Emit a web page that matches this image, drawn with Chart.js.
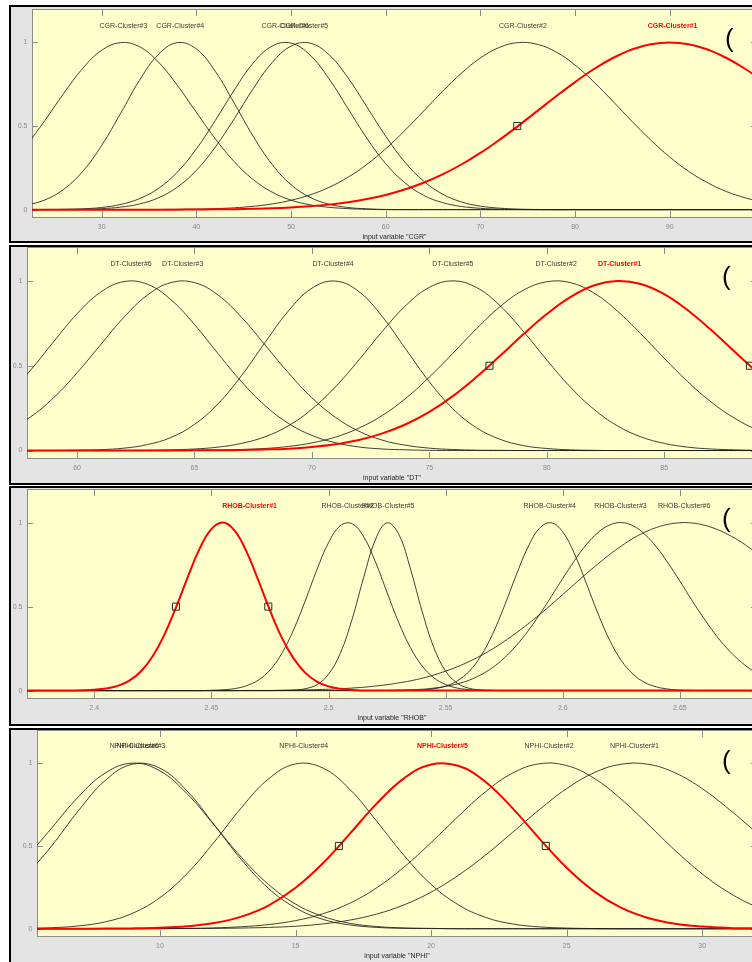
<!DOCTYPE html>
<html>
<head>
<meta charset="utf-8">
<script src="https://cdn.jsdelivr.net/npm/chart.js@4.4.1/dist/chart.umd.min.js"></script>
<style>
  html, body { margin: 0; padding: 0; background: #ffffff; }
  body { position: relative; width: 752px; height: 962px; overflow: hidden; }
  .frame { position: absolute; left: 9px; width: 800px; background: #e4e4e4; border: 2px solid #000; box-sizing: border-box; }
  canvas { position: absolute; left: 0; }
  .paren { position: absolute; font-family: 'Liberation Sans', Arial, sans-serif; font-size: 26px; line-height: 26px; color: #000; }
</style>
</head>
<body>
<div class="frame" style="top:5px;height:238px"></div>
<div class="frame" style="top:245px;height:240px"></div>
<div class="frame" style="top:486px;height:240px"></div>
<div class="frame" style="top:728px;height:300px"></div>

<canvas id="cgr"></canvas>
<canvas id="dt"></canvas>
<canvas id="rhob"></canvas>
<canvas id="nphi"></canvas>

<div class="paren" style="left:725px;top:25px">(</div>
<div class="paren" style="left:722px;top:263px">(</div>
<div class="paren" style="left:722px;top:505px">(</div>
<div class="paren" style="left:722px;top:747px">(</div>

<script>
// ---- membership degrees sampled along each input variable ----
const yTicks = [0, 0.5, 1];

// CGR
const cgrX = [22,24,26,28,30,32,34,36,38,40,42,44,46,48,50,52,54,56,58,60,62,64,66,68,70,72,74,76,78,80,82,84,86,88,90,92,94,96,98,100];
const cgrCluster1 = [0,0,0,0,0,0,0,0,0,0.001,0.002,0.003,0.005,0.008,0.013,0.020,0.030,0.044,0.063,0.088,0.120,0.161,0.211,0.270,0.339,0.417,0.501,0.589,0.678,0.763,0.841,0.907,0.958,0.989,1.000,0.989,0.958,0.907,0.841,0.763];
const cgrCluster2 = [0,0,0,0,0,0,0,0.001,0.002,0.003,0.006,0.011,0.020,0.034,0.056,0.088,0.133,0.193,0.270,0.364,0.472,0.589,0.707,0.816,0.907,0.970,0.999,0.989,0.943,0.865,0.763,0.648,0.529,0.416,0.315,0.229,0.161,0.108,0.070,0.044];
const cgrCluster3 = [0.379,0.533,0.696,0.845,0.953,0.999,0.974,0.882,0.743,0.582,0.424,0.287,0.180,0.105,0.057,0.029,0.014,0.006,0.002,0,0,0,0,0,0,0,0,0,0,0,0,0,0,0,0,0,0,0,0,0];
const cgrCluster4 = [0.025,0.058,0.122,0.229,0.384,0.576,0.774,0.929,0.999,0.961,0.827,0.637,0.439,0.271,0.149,0.074,0.033,0.013,0.005,0.001,0,0,0,0,0,0,0,0,0,0,0,0,0,0,0,0,0,0,0,0];
const cgrCluster5 = [0,0,0.001,0.002,0.006,0.015,0.034,0.071,0.135,0.235,0.374,0.543,0.723,0.879,0.978,0.996,0.927,0.790,0.616,0.439,0.286,0.171,0.093,0.046,0.021,0.009,0.003,0.001,0,0,0,0,0,0,0,0,0,0,0,0];
const cgrCluster6 = [0,0.001,0.002,0.005,0.013,0.031,0.066,0.127,0.225,0.363,0.533,0.715,0.876,0.978,0.996,0.925,0.784,0.606,0.428,0.275,0.162,0.086,0.042,0.019,0.008,0.003,0.001,0,0,0,0,0,0,0,0,0,0,0,0,0];
const cgrTicks = [30,40,50,60,70,80,90];
const cgrLabelX = [90.3, 74.5, 32.3, 38.3, 51.4, 49.4];
const cgrMarkX = [73.9];
const cgrMarkY = [0.5];

// DT
const dtX = [57,58,59,60,61,62,63,64,65,66,67,68,69,70,71,72,73,74,75,76,77,78,79,80,81,82,83,84,85,86,87,88,89,90];
const dtCluster1 = [0,0,0,0,0,0,0,0,0.001,0.001,0.003,0.006,0.011,0.021,0.037,0.062,0.101,0.155,0.228,0.321,0.433,0.557,0.685,0.805,0.905,0.973,1.000,0.982,0.922,0.827,0.710,0.582,0.457,0.342];
const dtCluster2 = [0,0,0,0,0,0,0,0,0.001,0.003,0.006,0.012,0.024,0.045,0.079,0.132,0.207,0.308,0.433,0.573,0.717,0.847,0.945,0.995,0.990,0.929,0.823,0.689,0.544,0.406,0.286,0.190,0.119,0.071];
const dtCluster3 = [0.114,0.196,0.311,0.458,0.623,0.786,0.917,0.990,0.990,0.917,0.786,0.623,0.458,0.311,0.196,0.114,0.061,0.031,0.014,0.006,0.002,0.001,0,0,0,0,0,0,0,0,0,0,0,0];
const dtCluster4 = [0,0,0,0.002,0.005,0.014,0.035,0.077,0.154,0.275,0.441,0.636,0.823,0.957,0.999,0.937,0.789,0.597,0.405,0.247,0.135,0.067,0.029,0.012,0.004,0.001,0,0,0,0,0,0,0,0];
const dtCluster5 = [0,0,0,0,0,0,0.001,0.004,0.009,0.020,0.042,0.081,0.146,0.244,0.375,0.534,0.703,0.855,0.962,1.000,0.962,0.855,0.703,0.534,0.375,0.244,0.146,0.081,0.042,0.020,0.009,0.004,0.001,0];
const dtCluster6 = [0.318,0.470,0.641,0.806,0.933,0.996,0.980,0.889,0.743,0.572,0.406,0.266,0.160,0.089,0.046,0.021,0.009,0.004,0.001,0,0,0,0,0,0,0,0,0,0,0,0,0,0,0];
const dtTicks = [60,65,70,75,80,85];
const dtLabelX = [83.1, 80.4, 64.5, 70.9, 76.0, 62.3];
const dtMarkX = [77.56, 88.65];
const dtMarkY = [0.5, 0.5];

// RHOB
const rhobX = [2.370,2.375,2.380,2.385,2.390,2.395,2.400,2.405,2.410,2.415,2.420,2.425,2.430,2.435,2.440,2.445,2.450,2.455,2.460,2.465,2.470,2.475,2.480,2.485,2.490,2.495,2.500,2.505,2.510,2.515,2.520,2.525,2.530,2.535,2.540,2.545,2.550,2.555,2.560,2.565,2.570,2.575,2.580,2.585,2.590,2.595,2.600,2.605,2.610,2.615,2.620,2.625,2.630,2.635,2.640,2.645,2.650,2.655,2.660,2.665,2.670,2.675,2.680,2.685,2.690];
const rhobCluster1 = [0,0,0,0,0.001,0.002,0.005,0.012,0.028,0.059,0.115,0.206,0.335,0.499,0.679,0.845,0.961,1.000,0.951,0.827,0.657,0.478,0.317,0.193,0.107,0.054,0.025,0.011,0.004,0.001,0,0,0,0,0,0,0,0,0,0,0,0,0,0,0,0,0,0,0,0,0,0,0,0,0,0,0,0,0,0,0,0,0,0,0];
const rhobCluster2 = [0,0,0,0,0,0,0,0,0,0,0,0,0,0,0,0,0.002,0.005,0.012,0.029,0.062,0.122,0.220,0.359,0.532,0.718,0.880,0.981,0.994,0.916,0.767,0.584,0.404,0.255,0.146,0.076,0.036,0.015,0.006,0.002,0.001,0,0,0,0,0,0,0,0,0,0,0,0,0,0,0,0,0,0,0,0,0,0,0,0];
const rhobCluster3 = [0,0,0,0,0,0,0,0,0,0,0,0,0,0,0,0,0,0,0,0,0,0,0,0,0,0,0,0,0,0,0.001,0.001,0.003,0.005,0.008,0.015,0.025,0.040,0.062,0.094,0.137,0.194,0.266,0.352,0.451,0.558,0.668,0.774,0.868,0.940,0.986,1.000,0.981,0.930,0.854,0.758,0.651,0.540,0.434,0.337,0.253,0.184,0.129,0.088,0.058];
const rhobCluster4 = [0,0,0,0,0,0,0,0,0,0,0,0,0,0,0,0,0,0,0,0,0,0,0,0,0,0,0,0,0,0,0,0,0,0.002,0.004,0.011,0.027,0.058,0.114,0.205,0.335,0.501,0.683,0.850,0.965,0.999,0.944,0.814,0.640,0.459,0.300,0.179,0.098,0.048,0.022,0.009,0.003,0.001,0,0,0,0,0,0,0];
const rhobCluster5 = [0,0,0,0,0,0,0,0,0,0,0,0,0,0,0,0,0,0,0,0,0,0,0.001,0.003,0.011,0.035,0.097,0.221,0.422,0.673,0.897,0.999,0.930,0.723,0.470,0.255,0.116,0.044,0.014,0.004,0.001,0,0,0,0,0,0,0,0,0,0,0,0,0,0,0,0,0,0,0,0,0,0,0,0];
const rhobCluster6 = [0,0,0,0,0,0,0,0,0,0,0,0,0,0,0,0,0,0,0,0.001,0.001,0.001,0.002,0.003,0.004,0.006,0.008,0.011,0.015,0.020,0.027,0.035,0.046,0.058,0.074,0.093,0.116,0.142,0.173,0.208,0.248,0.293,0.342,0.395,0.451,0.511,0.572,0.634,0.695,0.754,0.810,0.861,0.906,0.943,0.971,0.990,0.999,0.998,0.986,0.964,0.933,0.894,0.847,0.795,0.738];
const rhobTicks = [2.4,2.45,2.5,2.55,2.6,2.65];
const rhobLabelX = [2.4663, 2.5082, 2.6246, 2.5944, 2.5255, 2.6518];
const rhobMarkX = [2.4349, 2.4743];
const rhobMarkY = [0.5, 0.5];

// NPHI
const nphiX = [5,6,7,8,9,10,11,12,13,14,15,16,17,18,19,20,21,22,23,24,25,26,27,28,29,30,31,32,33];
const nphiCluster1 = [0,0,0,0,0,0,0.001,0.002,0.004,0.008,0.015,0.029,0.052,0.089,0.144,0.221,0.322,0.444,0.581,0.720,0.846,0.941,0.993,0.993,0.941,0.846,0.720,0.581,0.444];
const nphiCluster2 = [0,0,0,0,0,0.001,0.002,0.005,0.012,0.025,0.049,0.090,0.154,0.248,0.372,0.520,0.678,0.826,0.939,0.996,0.985,0.910,0.784,0.631,0.473,0.331,0.217,0.132,0.075];
const nphiCluster3 = [0.308,0.499,0.714,0.898,0.994,0.969,0.832,0.628,0.418,0.244,0.126,0.057,0.023,0.008,0.002,0.001,0,0,0,0,0,0,0,0,0,0,0,0,0];
const nphiCluster4 = [0.002,0.006,0.017,0.042,0.094,0.188,0.333,0.523,0.730,0.904,0.995,0.971,0.842,0.648,0.443,0.268,0.145,0.069,0.029,0.011,0.004,0.001,0,0,0,0,0,0,0];
const nphiCluster5 = [0,0,0,0.001,0.002,0.006,0.015,0.034,0.073,0.140,0.247,0.394,0.573,0.757,0.908,0.992,0.984,0.888,0.728,0.543,0.368,0.227,0.127,0.065,0.030,0.013,0.005,0.002,0.001];
const nphiCluster6 = [0.414,0.607,0.798,0.942,1.000,0.953,0.815,0.626,0.432,0.268,0.149,0.075,0.033,0.013,0.005,0.002,0,0,0,0,0,0,0,0,0,0,0,0,0];
const nphiTicks = [10,15,20,25,30];
const nphiLabelX = [27.5, 24.35, 9.3, 15.3, 20.42, 9.05];
const nphiMarkX = [16.6, 24.23];
const nphiMarkY = [0.5, 0.5];

// ---- drawing ----
const FONT = "'Liberation Sans', Arial, Helvetica, sans-serif";
const CANVAS_W = 800, PAD_TOP = 20, AXIS_H = 30, YAXIS_W = 20;

// axes background, box, inward tick marks and cluster name tags
function decorPlugin(spec) {
  return {
    id: 'mfDecor',
    beforeDatasetsDraw(chart) {
      const { ctx, chartArea: a, scales } = chart;
      ctx.save();
      ctx.fillStyle = '#ffffcc';
      ctx.fillRect(a.left, a.top, a.right - a.left, a.bottom - a.top);
      ctx.strokeStyle = '#8c8c8c';
      ctx.lineWidth = 1;
      ctx.strokeRect(a.left + 0.5, a.top + 0.5, a.right - a.left - 1, a.bottom - a.top - 1);
      ctx.beginPath();
      scales.x.ticks.forEach(t => {
        const px = Math.round(scales.x.getPixelForValue(t.value)) + 0.5;
        ctx.moveTo(px, a.bottom); ctx.lineTo(px, a.bottom - 7);
        ctx.moveTo(px, a.top); ctx.lineTo(px, a.top + 7);
      });
      scales.y.ticks.forEach(t => {
        const py = Math.round(scales.y.getPixelForValue(t.value)) + 0.5;
        ctx.moveTo(a.left, py); ctx.lineTo(a.left + 6, py);
        ctx.moveTo(a.right, py); ctx.lineTo(a.right - 6, py);
      });
      ctx.stroke();
      ctx.restore();
    },
    afterDatasetsDraw(chart) {
      const { ctx, scales } = chart;
      ctx.save();
      ctx.textAlign = 'center';
      ctx.textBaseline = 'middle';
      spec.names.forEach((name, i) => {
        const on = i === spec.active;
        ctx.font = (on ? 'bold ' : '') + '7px ' + FONT;
        ctx.fillStyle = on ? '#ff0000' : '#3a3a3a';
        ctx.fillText(name, scales.x.getPixelForValue(spec.labelX[i]), scales.y.getPixelForValue(1.1));
      });
      ctx.restore();
    }
  };
}

function buildPanel(spec) {
  const cv = document.getElementById(spec.id);
  const plotH = spec.box.bottom - spec.box.top;
  cv.width = CANVAS_W;
  cv.height = PAD_TOP + plotH + AXIS_H;
  cv.style.top = (spec.box.top - PAD_TOP) + 'px';

  const pts = vals => spec.xs.map((x, i) => ({ x: x, y: vals[i] }));
  const datasets = [{
    data: spec.markX.map((x, i) => ({ x: x, y: spec.markY[i] })),
    showLine: false,
    pointStyle: 'rect',
    pointRadius: 5,
    pointBorderColor: '#2b2b2b',
    pointBackgroundColor: 'rgba(0,0,0,0)',
    pointBorderWidth: 1
  }];
  // the selected membership function is listed first so it paints on top
  const idx = [spec.active].concat(spec.series.map((_, i) => i).filter(i => i !== spec.active));
  idx.forEach(i => {
    const on = i === spec.active;
    datasets.push({
      data: pts(spec.series[i]),
      borderColor: on ? '#ff0000' : 'rgba(30,30,30,0.85)',
      borderWidth: on ? 2 : 1,
      pointRadius: 0,
      tension: 0.4,
      fill: false
    });
  });

  new Chart(cv, {
    type: 'line',
    data: { datasets },
    options: {
      responsive: false,
      animation: false,
      events: [],
      layout: { padding: { left: spec.box.left - YAXIS_W, top: PAD_TOP, right: CANVAS_W - spec.box.right, bottom: 0 } },
      plugins: { legend: { display: false }, tooltip: { enabled: false } },
      scales: {
        x: {
          type: 'linear',
          min: spec.xMin,
          max: spec.xMax,
          afterBuildTicks: s => { s.ticks = spec.ticks.map(v => ({ value: v })); },
          afterFit: s => { s.height = AXIS_H; },
          grid: { display: false, drawTicks: false },
          border: { display: false },
          ticks: { font: { family: FONT, size: 7 }, color: '#8a8a8a', padding: 4.5, maxRotation: 0, autoSkip: false, callback: v => String(v) },
          title: { display: true, text: spec.title, font: { family: FONT, size: 7 }, color: '#262626', padding: { top: 0, bottom: 6.5 } }
        },
        y: {
          min: -0.05,
          max: 1.2,
          afterBuildTicks: s => { s.ticks = yTicks.map(v => ({ value: v })); },
          afterFit: s => { s.width = YAXIS_W; },
          grid: { display: false, drawTicks: false },
          border: { display: false },
          ticks: { font: { family: FONT, size: 7 }, color: '#8a8a8a', padding: 4.5, callback: v => String(v) }
        }
      }
    },
    plugins: [decorPlugin(spec)]
  });
}

buildPanel({
  id: 'cgr', box: { left: 32, top: 9, right: 757, bottom: 218 }, xMin: 22.64, xMax: 99.22,
  xs: cgrX, series: [cgrCluster1, cgrCluster2, cgrCluster3, cgrCluster4, cgrCluster5, cgrCluster6],
  names: ['CGR-Cluster#1', 'CGR-Cluster#2', 'CGR-Cluster#3', 'CGR-Cluster#4', 'CGR-Cluster#5', 'CGR-Cluster#6'],
  labelX: cgrLabelX, active: 0, ticks: cgrTicks, markX: cgrMarkX, markY: cgrMarkY, title: 'input variable "CGR"'
});
buildPanel({
  id: 'dt', box: { left: 27, top: 247, right: 757, bottom: 459 }, xMin: 57.87, xMax: 88.95,
  xs: dtX, series: [dtCluster1, dtCluster2, dtCluster3, dtCluster4, dtCluster5, dtCluster6],
  names: ['DT-Cluster#1', 'DT-Cluster#2', 'DT-Cluster#3', 'DT-Cluster#4', 'DT-Cluster#5', 'DT-Cluster#6'],
  labelX: dtLabelX, active: 0, ticks: dtTicks, markX: dtMarkX, markY: dtMarkY, title: 'input variable "DT"'
});
buildPanel({
  id: 'rhob', box: { left: 27, top: 489, right: 757, bottom: 699 }, xMin: 2.3713, xMax: 2.6829,
  xs: rhobX, series: [rhobCluster1, rhobCluster2, rhobCluster3, rhobCluster4, rhobCluster5, rhobCluster6],
  names: ['RHOB-Cluster#1', 'RHOB-Cluster#2', 'RHOB-Cluster#3', 'RHOB-Cluster#4', 'RHOB-Cluster#5', 'RHOB-Cluster#6'],
  labelX: rhobLabelX, active: 0, ticks: rhobTicks, markX: rhobMarkX, markY: rhobMarkY, title: 'input variable "RHOB"'
});
buildPanel({
  id: 'nphi', box: { left: 37, top: 730, right: 757, bottom: 937 }, xMin: 5.465, xMax: 32.02,
  xs: nphiX, series: [nphiCluster1, nphiCluster2, nphiCluster3, nphiCluster4, nphiCluster5, nphiCluster6],
  names: ['NPHI-Cluster#1', 'NPHI-Cluster#2', 'NPHI-Cluster#3', 'NPHI-Cluster#4', 'NPHI-Cluster#5', 'NPHI-Cluster#6'],
  labelX: nphiLabelX, active: 4, ticks: nphiTicks, markX: nphiMarkX, markY: nphiMarkY, title: 'input variable "NPHI"'
});
</script>
</body>
</html>
